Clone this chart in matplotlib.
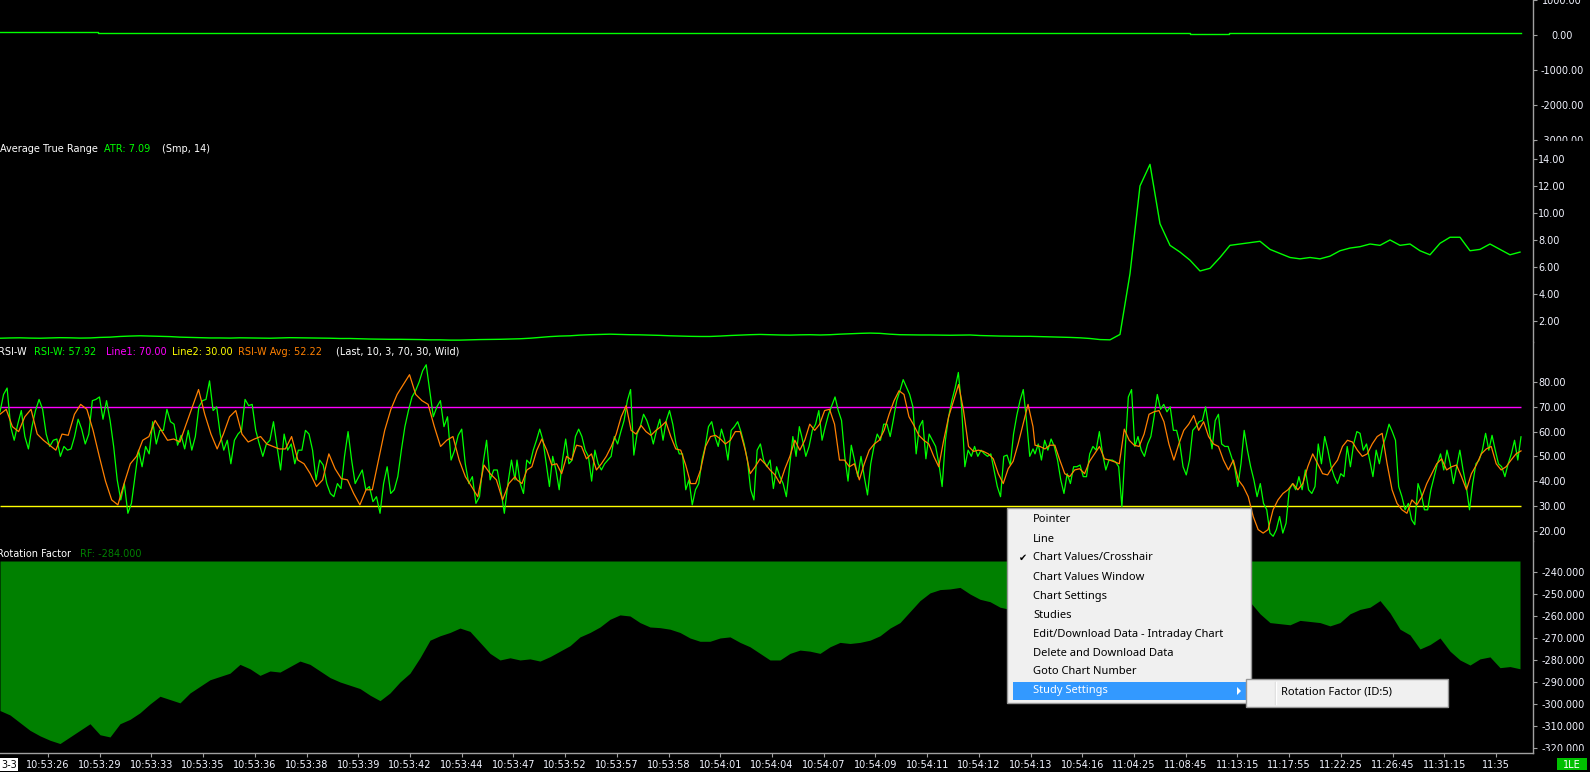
import numpy as np
import matplotlib
matplotlib.use("Agg")
import matplotlib.pyplot as plt
from matplotlib.patches import Rectangle, Polygon
from matplotlib.transforms import Bbox, TransformedBbox

plt.rcParams['font.family'] = ['DejaVu Sans']

# ---- data ----
top_vals = [85, 80, 75, 70, 72, 68, 65, 62, 60, 58, 60, 62, 58, 55, 52, 50, 52, 55, 50, 48,
            45, 48, 50, 52, 48, 45, 50, 55, 52, 48, 45, 42, 45, 48, 50, 52, 48, 45, 50, 60]
top_ticks = [1000, 0, -1000, -2000, -3000]

atr = [0.72, 0.74, 0.75, 0.73, 0.72, 0.74, 0.76, 0.75, 0.73, 0.74,
       0.78, 0.8, 0.85, 0.88, 0.9, 0.88, 0.86, 0.84, 0.8, 0.78,
       0.76, 0.74, 0.74, 0.73, 0.75, 0.74, 0.73, 0.72, 0.74, 0.76,
       0.75, 0.74, 0.73, 0.72, 0.7, 0.7, 0.68, 0.66, 0.65, 0.64,
       0.64, 0.63, 0.62, 0.6, 0.6, 0.58, 0.58, 0.6, 0.62, 0.63,
       0.64, 0.66, 0.68, 0.72, 0.78, 0.84, 0.88, 0.9, 0.95, 0.98,
       1.0, 1.02, 1.0, 0.98, 0.97, 0.95, 0.93, 0.9, 0.88, 0.86,
       0.85, 0.85, 0.88, 0.92, 0.95, 0.98, 1.0, 0.98, 0.96, 0.95,
       0.97, 0.98, 0.96, 0.98, 1.02, 1.05, 1.08, 1.1, 1.08, 1.02,
       0.98, 0.97, 0.96, 0.96, 0.95, 0.94, 0.95, 0.96, 0.92, 0.9,
       0.88, 0.87, 0.86, 0.86, 0.84, 0.82, 0.8, 0.78, 0.75, 0.7,
       0.62, 0.6, 1.0, 5.5, 12.0, 13.6, 9.2, 7.6, 7.1, 6.5,
       5.7, 5.9, 6.7, 7.6, 7.7, 7.8, 7.9, 7.3, 7.0, 6.7,
       6.6, 6.7, 6.6, 6.8, 7.2, 7.4, 7.5, 7.7, 7.6, 8.0,
       7.6, 7.7, 7.2, 6.9, 7.75, 8.2, 8.2, 7.2, 7.3, 7.7,
       7.3, 6.9, 7.1]
atr_ticks = [2, 4, 6, 8, 10, 12, 14]

rsi_a = [68, 75, 77.6, 62, 56.5, 63, 68.5, 58, 53, 62, 68.5, 73, 69, 59, 54, 56.5, 57, 50, 54, 52.5,
         53, 58, 65, 61, 55, 59, 72.5, 73, 74, 65, 72.5, 64.5, 54, 40.5, 32.4, 39, 27, 31, 41.8, 52.5,
         45.8, 54, 51, 64, 55, 60.5, 60.5, 69, 64, 63, 54.5, 58.5, 53, 60.5, 52.5, 58, 70, 72.5, 73, 80.5,
         68.5, 70, 59, 52.5, 56.5, 47, 56.5, 59, 60.5, 73, 70.5, 71, 60.5, 55, 50, 55, 56.5, 64, 54, 44.5,
         59, 52.5, 55, 47, 52.5, 52.5, 60.5, 59, 52.5, 40.5, 48.5, 46.5, 39, 35, 33.7, 39, 37, 50, 60, 48.5,
         39, 41.8, 44.5, 36.5, 37.8, 31.7, 33.7, 27, 39, 45.8, 35, 36.5, 41.8, 52.5, 62, 68.5, 74, 76.5, 80, 84.6,
         87, 76.5, 66, 70, 72.5, 62, 66, 48.5, 52.5, 58.5, 61, 47, 39, 41.8, 31, 33.7, 47, 56.5, 40.5, 44.5,
         44.5, 36.5, 27, 39, 48.5, 40.5]
rsi_b = [48.5, 39, 35, 48.5, 47, 52.5, 56.5, 61, 56.5, 47, 37.8, 50, 44.5, 36.5, 48.5, 57, 47, 48.5, 58, 61,
         58, 52.5, 50, 40, 52.5, 47, 44.5, 47, 48.5, 50, 58, 55, 60, 64.5, 72.5, 77, 50.5, 59, 62, 67,
         64.5, 60.5, 55, 60.5, 65, 56.5, 64.5, 68.5, 63, 55, 51, 51, 36.5, 40.5, 30.4, 36.5, 39, 48.5, 54, 62,
         64, 58, 54, 61, 56.5, 48.5, 60.5, 62, 64, 60, 55, 48.5, 36.5, 32.4, 52.5, 55, 48.5, 45.8, 48.5, 37,
         45.8, 41.8, 39, 33.7, 45.8, 58, 50, 62, 56.5, 50, 54, 60.5, 63, 68.5, 56.5, 62, 67, 70.5, 74, 68.5,
         64.5, 50, 40, 54.5, 48.5, 41.8, 50, 41.8, 34.4, 47, 54, 59, 56.5, 63, 63, 58, 65, 72.5, 76.5, 81,
         78, 75, 70, 51, 62, 64.5, 49, 59, 56.5, 54, 47, 37.8, 56.5, 66, 72.5, 77.6, 83.9, 70, 45.8, 52.5,
         50, 54, 50, 52.5, 51, 50, 51, 44.5, 37.8, 33.7, 50, 50.5, 46.5, 59, 66.5, 72.5, 77, 64.5, 50, 53]
rsi_c = [51, 55, 48.5, 56.5, 52.5, 57, 54, 48.5, 40.5, 35, 43, 39, 45.8, 45.8, 46.5, 41.8, 41.8, 51, 54, 52.5,
         60, 51, 44.5, 48.5, 48.5, 47.8, 45.8, 29.7, 52.5, 74, 77, 54, 58, 52.5, 50, 55, 58, 66, 75, 69,
         71, 68, 70, 60.5, 60.5, 55, 45.8, 42.5, 48.5, 60.5, 62, 64, 64.5, 70, 62, 53, 64.5, 67, 55, 54,
         54, 50, 45.8, 37.8, 47, 60.5, 52.5, 45.8, 40.5, 33.7, 39, 31, 28.4, 19, 17.7, 20.4, 25.7, 19, 23, 36.5,
         39, 36.5, 41.8, 36.5, 44.5, 36.5, 35, 37.8, 55, 47, 58, 52.5, 45.8, 41.8, 39, 43, 41.8, 54, 45.8, 55,
         60, 59.3, 52.5, 55, 48.5, 41.8, 52.5, 47, 54, 58, 63, 60, 56.5, 37.8, 33.7, 28.4, 31, 24.4, 22.4, 39,
         35, 28.4, 28.4, 36.5, 41.8, 47, 51, 44.5, 52.5, 47, 39, 45.8, 52.5, 44.5, 37.8, 28.4, 39, 47, 48.5, 52.5,
         59.3, 52.5, 58.5, 52.5, 47, 45.8, 41.8, 47, 51, 56.5, 48.5, 57.9]

avg_a = [67, 69, 62, 60, 66, 69, 59, 56.5, 54.5, 52.5, 59, 58.5, 67, 71, 69, 60.5, 50, 40, 32.4, 30.4,
         39, 47, 50, 56.5, 58, 64.5, 60.5, 56.5, 57, 55.8, 63, 70, 77, 67, 59, 53, 59, 66, 68.5, 59,
         55.8, 57, 58, 55, 54, 53, 53, 58, 48.5, 47, 43, 37.8, 40.5, 51, 45, 41, 40.5, 35, 30.4, 36.5,
         36.5, 48.5, 60.5, 69, 75, 79, 83, 75, 72.5, 71, 62, 54, 56.5, 58, 48.5, 41.8, 37.8, 33.7, 46.5, 43,
         40.5, 32.4, 39, 41.8]
avg_b = [40.5, 39, 44.5, 45.8, 52.5, 57, 52.5, 46.5, 47, 43, 50, 48.5, 54.5, 54, 49, 51, 44.5, 47, 50, 54,
         59, 66, 70.5, 60.5, 59, 62.5, 60, 58.5, 60.5, 62, 64, 58, 53, 52.5, 46.5, 39, 39, 44.5, 54, 58,
         58.5, 57, 55, 56.5, 60, 60, 52.5, 43, 45.8, 49, 47, 44.5, 42.5, 39, 45, 50, 56.5, 52.5, 56.5, 63,
         60.5, 63, 68.5, 69, 63, 48.5, 48.5, 45.8, 47, 40.5, 47, 52.5, 55, 56.5, 60.5, 67, 72.5, 76.5, 75, 66,
         62.5, 58.5, 56.5, 55, 50, 45.8, 56.5, 66, 72.5, 79, 68.5, 54, 52, 52.5, 52, 51, 49, 43, 39, 45,
         48, 55, 63, 71, 62]
avg_c = [54.5, 54, 53, 54.5, 54.5, 48.5, 43, 41.8, 44.5, 45, 43, 48, 51, 54, 49, 48.5, 47.8, 47, 61, 56.5,
         54.5, 54, 59, 67, 68, 68.5, 64, 55, 48.5, 55, 60.5, 63, 66.5, 60.5, 64, 58, 55, 54, 48.5, 44.5,
         48.5, 40.5, 37.8, 33.7, 25.7, 20.4, 19, 20.4, 28.4, 32.4, 35, 36.5, 39, 36.5, 39, 45.8, 51, 47, 43, 42.5,
         45.8, 48.5, 54, 56.5, 55.8, 52.5, 50, 51, 55, 58, 59.3, 47, 36.5, 31, 28.4, 27, 32.4, 30.4, 33.7, 39,
         43, 47, 49, 44.5, 45.8, 46.5, 41.8, 36.5, 43, 46.5, 51, 53, 54, 47, 44.5, 45.8, 48.5, 51, 52.2]
rsi_line1, rsi_line2 = 70, 30
rsi_ticks = [20, 30, 40, 50, 60, 70, 80]

rf = [-303, -305, -308.5, -312, -314.5, -316.5, -318, -315, -312, -309,
      -314, -315, -309, -307, -304, -300, -296.5, -298, -299.5, -295,
      -292, -289, -287.5, -286, -282, -284, -287, -285, -285.5, -283,
      -280.5, -282, -285, -288, -290, -291.5, -293, -296, -298.5, -295,
      -290, -286, -279, -271, -269, -267.5, -265.5, -267, -272, -277,
      -280, -279, -280, -279.5, -280.5, -278.5, -276, -273.5, -269.5, -267.5,
      -265, -261.5, -259.5, -260, -263, -265, -265.3, -266, -267.5, -270,
      -271.5, -271.5, -270, -269.5, -272, -274, -277, -280, -280, -277,
      -275.5, -276, -277, -274, -272, -272.5, -272, -271, -269, -265.5,
      -263, -258, -253, -249.5, -248, -247.7, -247, -250, -252.4, -253.5,
      -256, -257, -256, -255, -254, -253, -252, -251, -250, -249,
      -248, -248, -249, -250, -250, -251, -252, -252, -251, -250,
      -251, -252, -253, -253, -253, -253.6, -259, -263, -263.5, -264,
      -262, -262.5, -263, -264.5, -263, -259, -257, -256, -253, -258.6,
      -266, -268.6, -275, -273, -270, -276, -280, -282.3, -279.5, -278.6,
      -283.5, -283, -284]
rf_base = -235
rf_ticks = [-240, -250, -260, -270, -280, -290, -300, -310, -320]

time_labels = ['10:53:26', '10:53:29', '10:53:33', '10:53:35', '10:53:36', '10:53:38', '10:53:39',
               '10:53:42', '10:53:44', '10:53:47', '10:53:52', '10:53:57', '10:53:58', '10:54:01',
               '10:54:04', '10:54:07', '10:54:09', '10:54:11', '10:54:12', '10:54:13', '10:54:16',
               '11:04:25', '11:08:45', '11:13:15', '11:17:55', '11:22:25', '11:26:45', '11:31:15', '11:35']

menu_items = ['Pointer', 'Line', 'Chart Values/Crosshair', 'Chart Values Window', 'Chart Settings',
              'Studies', 'Edit/Download Data - Intraday Chart', 'Delete and Download Data',
              'Goto Chart Number', 'Study Settings']

# ---- layout (pixels) ----
W, H = 1590, 772
AX_R = 1533      # right price-scale line
X_END = 1521     # last bar
LIME, GRAY, TXT = '#00FF00', '#A0A0A0', '#F2F4FF'

fig = plt.figure(figsize=(W / 100, H / 100), dpi=100, facecolor='black')


def make_pane(top, bottom, ylim, ticks, fmt, pad=0.8, clip=None):
    ax = fig.add_axes([0, 1 - bottom / H, AX_R / W, (bottom - top) / H])
    ax.set_facecolor('black')
    ax.set_xlim(0, AX_R)
    ax.set_ylim(*ylim)
    for s in ['top', 'left', 'bottom']:
        ax.spines[s].set_visible(False)
    ax.spines['right'].set_color(GRAY)
    ax.spines['right'].set_linewidth(1)
    ax.yaxis.tick_right()
    ax.set_yticks(ticks)
    ax.set_yticklabels([fmt % t for t in ticks])
    ax.tick_params(axis='y', colors=GRAY, labelcolor=TXT, labelsize=7, length=3, width=0.8, pad=pad)
    ax.tick_params(axis='x', bottom=False, labelbottom=False)
    c_top, c_bot = clip if clip else (top, bottom)
    cb = TransformedBbox(Bbox.from_extents(0, 1 - c_bot / H, 1, 1 - c_top / H), fig.transFigure)
    for lbl in ax.get_yticklabels():
        lbl.set_clip_on(True)
        lbl.set_clip_box(cb)
    return ax


# top pane
ax1 = make_pane(0, 141, (-3023, 972), top_ticks, '%.2f', pad=18)
for lbl in ax1.get_yticklabels():
    lbl.set_horizontalalignment('center')
ax1.plot(np.linspace(0, X_END, len(top_vals)), top_vals, color=LIME, lw=1, drawstyle='steps-mid')

# ATR pane
ax2 = make_pane(141, 342, (0.44, 15.33), atr_ticks, '%.2f')
ax2.plot(np.linspace(0, 1520, len(atr)), atr, color=LIME, lw=1)

# RSI pane
ax3 = make_pane(342, 541, (15.8, 96.2), rsi_ticks, '%.2f')
ax3.hlines([rsi_line1], 0, X_END, color='#FF00FF', lw=1)
ax3.hlines([rsi_line2], 0, X_END, color='#FFFF00', lw=1)
rsi = rsi_a + rsi_b + rsi_c
rsi_x = np.concatenate([np.linspace(0, 515, len(rsi_a)), np.linspace(517, 1033, len(rsi_b)),
                        np.linspace(1035, X_END, len(rsi_c))])
avg = avg_a + avg_b + avg_c
avg_x = np.concatenate([np.linspace(0, 515, len(avg_a)), np.linspace(517, 1033, len(avg_b)),
                        np.linspace(1035, X_END, len(avg_c))])
ax3.plot(rsi_x, rsi, color=LIME, lw=0.9)
ax3.plot(avg_x, avg, color='#FF8000', lw=0.9)

# Rotation factor pane
ax4 = make_pane(541, 753, (-322.3, -225.9), rf_ticks, '%.3f', pad=3, clip=(541, 751))
ax4.fill_between(np.linspace(0, 1520, len(rf)), rf, rf_base, color='#008000', lw=0)
ax4.spines['bottom'].set_visible(True)
ax4.spines['bottom'].set_color(GRAY)
ax4.spines['bottom'].set_linewidth(1)
ax4.set_xticks(np.linspace(48, 1496, len(time_labels)))
ax4.set_xticklabels(time_labels)
ax4.tick_params(axis='x', bottom=True, labelbottom=True, colors=GRAY, labelcolor=TXT,
                labelsize=7, length=3, width=0.8, pad=2)

# ---- overlay: headers, badges, context menu ----
ov = fig.add_axes([0, 0, 1, 1])
ov.set_xlim(0, W)
ov.set_ylim(H, 0)
ov.axis('off')
ov.set_zorder(10)


def header(y, parts):
    for x, s, c in parts:
        ov.text(x, y, s, color=c, fontsize=7, va='center', ha='left')


header(149, [(0, 'Average True Range', 'white'), (104, 'ATR: 7.09', LIME), (162, '(Smp, 14)', 'white')])
header(352, [(-2, 'RSI-W', 'white'), (34, 'RSI-W: 57.92', LIME), (106, 'Line1: 70.00', '#FF00FF'),
             (172, 'Line2: 30.00', '#FFFF00'), (238, 'RSI-W Avg: 52.22', '#FF8000'),
             (336, '(Last, 10, 3, 70, 30, Wild)', 'white')])
header(554, [(-3, 'Rotation Factor', 'white'), (80, 'RF: -284.000', '#008000')])

ov.add_patch(Rectangle((0, 758), 18, 13, fc='white', ec='none'))
ov.text(9, 765, '3-3', color='black', fontsize=7, ha='center', va='center')
ov.add_patch(Rectangle((1557, 758), 30, 12, fc='#00C000', ec='none'))
ov.text(1572, 764.5, '1LE', color='white', fontsize=7, ha='center', va='center')

mfont = dict(family=['Noto Sans', 'DejaVu Sans'], fontsize=8, va='center', ha='left')
ov.add_patch(Rectangle((1007, 508), 244, 195, fc='#F0F0F0', ec='#979797', lw=1))
ov.add_patch(Rectangle((1013, 682), 233, 18, fc='#3399FF', ec='none'))
for i, item in enumerate(menu_items):
    y = 520 + 19 * i
    ov.text(1033, y, item, color='white' if i == len(menu_items) - 1 else 'black', **mfont)
ov.text(1019, 558, '\u2714', color='black', **dict(mfont, fontsize=7))
ov.add_patch(Polygon([(1237, 687), (1237, 695), (1241, 691)], closed=True, fc='white', ec='none'))

ov.add_patch(Rectangle((1246, 679), 202, 28, fc='#F0F0F0', ec='#979797', lw=1))
ov.plot([1275, 1275], [682, 704], color='#DADADA', lw=1)
ov.plot([1276, 1276], [682, 704], color='white', lw=1)
ov.text(1281, 692, 'Rotation Factor (ID:5)', color='black', **mfont)

fig.savefig('out.png', dpi=100, facecolor='black')
